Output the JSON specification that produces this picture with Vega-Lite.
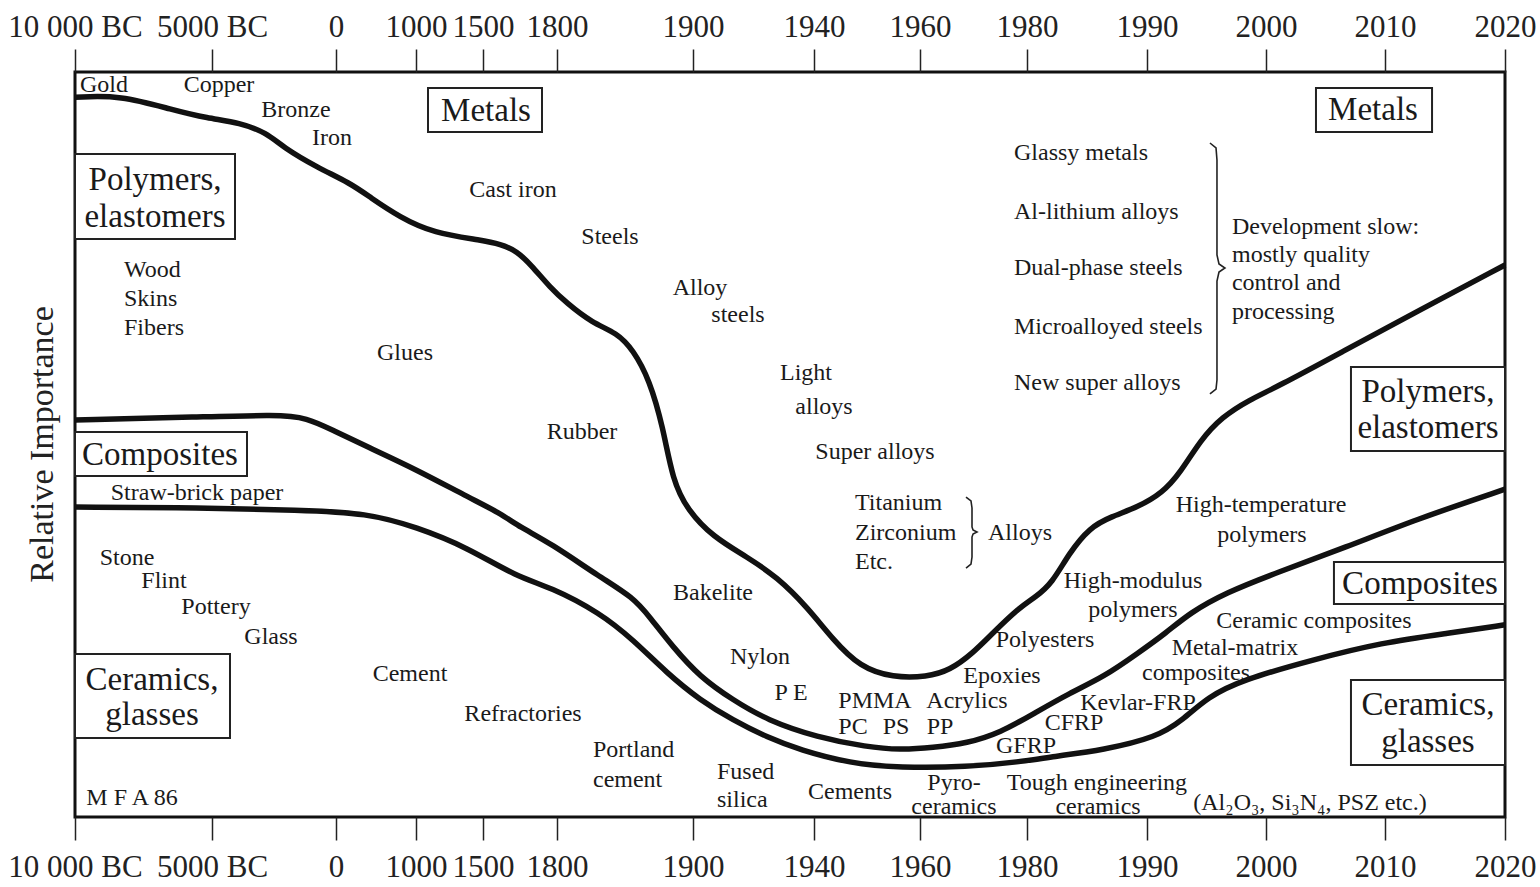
{
  "$schema": "https://vega.github.io/schema/vega-lite/v6.json",
  "width": 1430,
  "height": 745,
  "autosize": "none",
  "padding": {"left": 75, "top": 72, "right": 35, "bottom": 70},
  "background": "white",
  "title": {"text": "Relative Importance", "orient": "left", "anchor": "middle", "font": "Liberation Serif", "fontSize": 34, "fontWeight": "normal", "color": "#222", "offset": -52},
  "config": {
    "view": {"stroke": "#111", "strokeWidth": 3},
    "font": "Liberation Serif",
    "axis": {"labelFont": "Liberation Serif", "titleFont": "Liberation Serif", "grid": false}
  },
  "datasets": {
    "curves": [
      {"curve": "A", "year": -10000, "v": 96.6}, {"curve": "A", "year": -8358, "v": 96.9}, {"curve": "A", "year": -6423, "v": 94.9}, {"curve": "A", "year": -5182, "v": 93.8}, {"curve": "A", "year": -3871, "v": 93.2}, {"curve": "A", "year": -2782, "v": 91.8}, {"curve": "A", "year": -2137, "v": 89.9}, {"curve": "A", "year": -766, "v": 87.2}, {"curve": "A", "year": 175, "v": 85.1}, {"curve": "A", "year": 425, "v": 83.2}, {"curve": "A", "year": 800, "v": 80.5}, {"curve": "A", "year": 1127, "v": 78.4}, {"curve": "A", "year": 1500, "v": 77.4}, {"curve": "A", "year": 1569, "v": 76.9}, {"curve": "A", "year": 1638, "v": 76.0}, {"curve": "A", "year": 1703, "v": 73.8}, {"curve": "A", "year": 1772, "v": 71.1}, {"curve": "A", "year": 1807, "v": 69.0}, {"curve": "A", "year": 1826, "v": 66.3}, {"curve": "A", "year": 1844, "v": 65.0}, {"curve": "A", "year": 1856, "v": 62.7}, {"curve": "A", "year": 1868, "v": 58.7}, {"curve": "A", "year": 1878, "v": 52.3}, {"curve": "A", "year": 1885, "v": 45.2}, {"curve": "A", "year": 1896, "v": 41.2}, {"curve": "A", "year": 1906.6, "v": 37.6}, {"curve": "A", "year": 1917.9, "v": 34.9}, {"curve": "A", "year": 1927.8, "v": 32.2}, {"curve": "A", "year": 1937.7, "v": 28.2}, {"curve": "A", "year": 1943.6, "v": 23.8}, {"curve": "A", "year": 1948.7, "v": 20.1}, {"curve": "A", "year": 1954.9, "v": 18.7}, {"curve": "A", "year": 1961.3, "v": 18.8}, {"curve": "A", "year": 1965.6, "v": 19.7}, {"curve": "A", "year": 1969.9, "v": 22.0}, {"curve": "A", "year": 1973.6, "v": 24.7}, {"curve": "A", "year": 1978.7, "v": 28.2}, {"curve": "A", "year": 1980.7, "v": 29.5}, {"curve": "A", "year": 1982.1, "v": 31.4}, {"curve": "A", "year": 1983.5, "v": 35.4}, {"curve": "A", "year": 1985.25, "v": 38.9}, {"curve": "A", "year": 1987.0, "v": 40.3}, {"curve": "A", "year": 1989.25, "v": 41.6}, {"curve": "A", "year": 1991.3, "v": 43.5}, {"curve": "A", "year": 1992.8, "v": 46.2}, {"curve": "A", "year": 1994.5, "v": 50.6}, {"curve": "A", "year": 1996.3, "v": 53.7}, {"curve": "A", "year": 1998.6, "v": 56.0}, {"curve": "A", "year": 2000.9, "v": 57.7}, {"curve": "A", "year": 2006.7, "v": 62.7}, {"curve": "A", "year": 2012.5, "v": 67.7}, {"curve": "A", "year": 2020, "v": 74.1},
      {"curve": "B", "year": -10000, "v": 53.3}, {"curve": "B", "year": -5438, "v": 53.7}, {"curve": "B", "year": -2379, "v": 54.0}, {"curve": "B", "year": -1170, "v": 53.6}, {"curve": "B", "year": -121, "v": 51.9}, {"curve": "B", "year": 388, "v": 49.7}, {"curve": "B", "year": 1007, "v": 46.6}, {"curve": "B", "year": 1381, "v": 43.0}, {"curve": "B", "year": 1569, "v": 40.8}, {"curve": "B", "year": 1650, "v": 38.9}, {"curve": "B", "year": 1772, "v": 36.8}, {"curve": "B", "year": 1831.6, "v": 32.2}, {"curve": "B", "year": 1855.9, "v": 29.5}, {"curve": "B", "year": 1868.4, "v": 26.8}, {"curve": "B", "year": 1885.3, "v": 22.8}, {"curve": "B", "year": 1902.3, "v": 18.8}, {"curve": "B", "year": 1913.2, "v": 15.7}, {"curve": "B", "year": 1924.5, "v": 13.0}, {"curve": "B", "year": 1940.6, "v": 10.7}, {"curve": "B", "year": 1950.0, "v": 9.4}, {"curve": "B", "year": 1956.2, "v": 9.0}, {"curve": "B", "year": 1962.4, "v": 9.3}, {"curve": "B", "year": 1968.8, "v": 9.9}, {"curve": "B", "year": 1975.0, "v": 11.3}, {"curve": "B", "year": 1980.7, "v": 14.0}, {"curve": "B", "year": 1983.5, "v": 16.6}, {"curve": "B", "year": 1986.4, "v": 18.8}, {"curve": "B", "year": 1989.25, "v": 22.0}, {"curve": "B", "year": 1991.6, "v": 24.7}, {"curve": "B", "year": 1993.6, "v": 27.4}, {"curve": "B", "year": 1996.6, "v": 30.1}, {"curve": "B", "year": 2000.9, "v": 32.8}, {"curve": "B", "year": 2006.7, "v": 36.2}, {"curve": "B", "year": 2012.5, "v": 39.9}, {"curve": "B", "year": 2020, "v": 44.0},
      {"curve": "C", "year": -10000, "v": 41.6}, {"curve": "C", "year": -5438, "v": 41.5}, {"curve": "C", "year": -1452, "v": 41.2}, {"curve": "C", "year": 388, "v": 40.8}, {"curve": "C", "year": 1007, "v": 38.9}, {"curve": "C", "year": 1381, "v": 36.2}, {"curve": "C", "year": 1638, "v": 32.2}, {"curve": "C", "year": 1772, "v": 30.9}, {"curve": "C", "year": 1831.6, "v": 27.4}, {"curve": "C", "year": 1855.9, "v": 23.8}, {"curve": "C", "year": 1880.9, "v": 19.3}, {"curve": "C", "year": 1902.3, "v": 15.7}, {"curve": "C", "year": 1913.2, "v": 13.0}, {"curve": "C", "year": 1924.5, "v": 10.7}, {"curve": "C", "year": 1935.4, "v": 9.0}, {"curve": "C", "year": 1946.8, "v": 7.2}, {"curve": "C", "year": 1956.2, "v": 6.6}, {"curve": "C", "year": 1968.8, "v": 6.7}, {"curve": "C", "year": 1978.7, "v": 7.4}, {"curve": "C", "year": 1982.1, "v": 8.1}, {"curve": "C", "year": 1986.4, "v": 9.0}, {"curve": "C", "year": 1990.8, "v": 10.7}, {"curve": "C", "year": 1993.0, "v": 13.0}, {"curve": "C", "year": 1995.1, "v": 16.1}, {"curve": "C", "year": 1998.0, "v": 18.4}, {"curve": "C", "year": 2003.9, "v": 21.1}, {"curve": "C", "year": 2009.7, "v": 23.4}, {"curve": "C", "year": 2015.4, "v": 24.7}, {"curve": "C", "year": 2020, "v": 25.8}
    ],
    "boxes": [
      {"x1": 1089.56, "x2": 1739.19, "y1": 91.95, "y2": 97.85},
      {"x1": 2004.2, "x2": 2013.92, "y1": 91.95, "y2": 97.85},
      {"x1": -10000, "x2": -4072.6, "y1": 77.58, "y2": 88.99},
      {"x1": -10000, "x2": -3588.8, "y1": 45.77, "y2": 51.68},
      {"x1": -10000, "x2": -4274.2, "y1": 10.6, "y2": 21.88},
      {"x1": 2007.14, "x2": 2020, "y1": 49.13, "y2": 60.4},
      {"x1": 2005.71, "x2": 2020, "y1": 28.59, "y2": 34.23},
      {"x1": 2007.14, "x2": 2020, "y1": 6.98, "y2": 18.39}
    ],
    "boxLabels": [
      {"label": "Metals", "year": 1512.16, "v": 94.77},
      {"label": "Metals", "year": 2008.99, "v": 94.9},
      {"label": "Polymers,", "year": -7080, "v": 85.5},
      {"label": "elastomers", "year": -7080, "v": 80.54},
      {"label": "Composites", "year": -6897.5, "v": 48.59},
      {"label": "Ceramics,", "year": -7189.5, "v": 18.39},
      {"label": "glasses", "year": -7189.5, "v": 13.69},
      {"label": "Polymers,", "year": 2013.58, "v": 57.05},
      {"label": "elastomers", "year": 2013.58, "v": 52.21},
      {"label": "Composites", "year": 2012.92, "v": 31.28},
      {"label": "Ceramics,", "year": 2013.58, "v": 15.03},
      {"label": "glasses", "year": 2013.58, "v": 10.07}
    ],
    "labels": [
      {"label": "Gold", "year": -8941.5, "v": 98.26},
      {"label": "Copper", "year": -4717.8, "v": 98.26},
      {"label": "Bronze", "year": -1613, "v": 94.9},
      {"label": "Iron", "year": -161.6, "v": 91.14},
      {"label": "Cast iron", "year": 1621.6, "v": 84.16},
      {"label": "Steels", "year": 1838.97, "v": 77.85},
      {"label": "Alloy", "year": 1902.31, "v": 71.01},
      {"label": "steels", "year": 1914.88, "v": 67.38},
      {"label": "Light", "year": 1937.36, "v": 59.6},
      {"label": "alloys", "year": 1941.89, "v": 55.03},
      {"label": "Super alloys", "year": 1951.51, "v": 48.99},
      {"label": "Glues", "year": 862.5, "v": 62.28},
      {"label": "Rubber", "year": 1818.38, "v": 51.68},
      {"label": "Straw-brick paper", "year": -5547, "v": 43.49},
      {"label": "Stone", "year": -8102, "v": 34.77},
      {"label": "Flint", "year": -6751.5, "v": 31.68},
      {"label": "Pottery", "year": -4838.7, "v": 28.19},
      {"label": "Glass", "year": -2621, "v": 24.16},
      {"label": "Cement", "year": 925, "v": 19.19},
      {"label": "Refractories", "year": 1662.2, "v": 13.83},
      {"label": "Cements", "year": 1946.79, "v": 3.36},
      {"label": "Pyro-", "year": 1966.35, "v": 4.56},
      {"label": "ceramics", "year": 1966.35, "v": 1.34},
      {"label": "Tough engineering", "year": 1985.83, "v": 4.56},
      {"label": "ceramics", "year": 1985.92, "v": 1.34},
      {"label": "(Al₂O₃, Si₃N₄, PSZ etc.)", "year": 2003.7, "v": 1.88},
      {"label": "Bakelite", "year": 1906.61, "v": 30.07},
      {"label": "Nylon", "year": 1922.15, "v": 21.48},
      {"label": "P E", "year": 1932.4, "v": 16.64},
      {"label": "PMMA", "year": 1951.51, "v": 15.6},
      {"label": "PC", "year": 1947.36, "v": 12.05},
      {"label": "PS", "year": 1955.47, "v": 12.05},
      {"label": "Acrylics", "year": 1968.78, "v": 15.6},
      {"label": "PP", "year": 1963.74, "v": 12.05},
      {"label": "Epoxies", "year": 1975.33, "v": 18.93},
      {"label": "Polyesters", "year": 1981.5, "v": 23.76},
      {"label": "GFRP", "year": 1979.81, "v": 9.53},
      {"label": "CFRP", "year": 1983.92, "v": 12.62},
      {"label": "Kevlar-FRP", "year": 1989.25, "v": 15.3},
      {"label": "Metal-matrix", "year": 1997.39, "v": 22.68},
      {"label": "composites", "year": 1994.12, "v": 19.33},
      {"label": "Ceramic composites", "year": 2004.03, "v": 26.31},
      {"label": "High-modulus", "year": 1988.83, "v": 31.68},
      {"label": "polymers", "year": 1988.83, "v": 27.79},
      {"label": "High-temperature", "year": 1999.58, "v": 41.88},
      {"label": "polymers", "year": 1999.66, "v": 37.85},
      {"label": "M F A 86", "year": -7919.5, "v": 2.55}
    ],
    "leftLabels": [
      {"label": "Wood", "year": -8211.5, "v": 73.42},
      {"label": "Skins", "year": -8211.5, "v": 69.53},
      {"label": "Fibers", "year": -8211.5, "v": 65.64},
      {"label": "Titanium", "year": 1947.74, "v": 42.15},
      {"label": "Zirconium", "year": 1947.74, "v": 38.12},
      {"label": "Etc.", "year": 1947.74, "v": 34.23},
      {"label": "Alloys", "year": 1972.71, "v": 38.12},
      {"label": "Glassy metals", "year": 1977.57, "v": 89.13},
      {"label": "Al-lithium alloys", "year": 1977.57, "v": 81.21},
      {"label": "Dual-phase steels", "year": 1977.57, "v": 73.69},
      {"label": "Microalloyed steels", "year": 1977.57, "v": 65.77},
      {"label": "New super alloys", "year": 1977.57, "v": 58.26},
      {"label": "Development slow:", "year": 1997.14, "v": 79.19},
      {"label": "mostly quality", "year": 1997.14, "v": 75.44},
      {"label": "control and", "year": 1997.14, "v": 71.68},
      {"label": "processing", "year": 1997.14, "v": 67.79},
      {"label": "Portland", "year": 1826.47, "v": 8.99},
      {"label": "cement", "year": 1826.47, "v": 4.97},
      {"label": "Fused", "year": 1907.93, "v": 6.04},
      {"label": "silica", "year": 1907.93, "v": 2.28}
    ],
    "braces": [
      {"brace": "big", "i": 1, "year": 1995.29, "v": 90.47}, {"brace": "big", "i": 2, "year": 1995.8, "v": 89.8}, {"brace": "big", "i": 3, "year": 1995.88, "v": 88.19}, {"brace": "big", "i": 4, "year": 1995.88, "v": 75.44}, {"brace": "big", "i": 5, "year": 1996.05, "v": 74.23}, {"brace": "big", "i": 6, "year": 1996.55, "v": 73.69}, {"brace": "big", "i": 7, "year": 1996.05, "v": 73.15}, {"brace": "big", "i": 8, "year": 1995.88, "v": 71.95}, {"brace": "big", "i": 9, "year": 1995.88, "v": 58.66}, {"brace": "big", "i": 10, "year": 1995.8, "v": 57.45}, {"brace": "big", "i": 11, "year": 1995.29, "v": 56.78},
      {"brace": "small", "i": 1, "year": 1968.6, "v": 42.95}, {"brace": "small", "i": 2, "year": 1969.53, "v": 42.42}, {"brace": "small", "i": 3, "year": 1969.72, "v": 41.48}, {"brace": "small", "i": 4, "year": 1969.72, "v": 38.93}, {"brace": "small", "i": 5, "year": 1969.91, "v": 38.52}, {"brace": "small", "i": 6, "year": 1970.65, "v": 38.26}, {"brace": "small", "i": 7, "year": 1969.91, "v": 37.99}, {"brace": "small", "i": 8, "year": 1969.72, "v": 37.58}, {"brace": "small", "i": 9, "year": 1969.72, "v": 34.9}, {"brace": "small", "i": 10, "year": 1969.53, "v": 33.96}, {"brace": "small", "i": 11, "year": 1968.6, "v": 33.42}
    ]
  },
  "layer": [
    {
      "data": {"name": "curves"},
      "mark": {"type": "line", "interpolate": "basis", "strokeWidth": 5.5, "color": "#111"},
      "encoding": {
        "x": {"field": "year", "type": "quantitative",
          "scale": {"type": "linear", "domain": [-10000, -5000, 0, 1000, 1500, 1800, 1900, 1940, 1960, 1980, 1990, 2000, 2010, 2020], "range": [0, 137, 261, 341, 408, 482, 618, 739, 845, 952, 1072, 1191, 1310, 1430], "nice": false, "zero": false},
          "axis": {"orient": "top", "title": null, "values": [-10000, -5000, 0, 1000, 1500, 1800, 1900, 1940, 1960, 1980, 1990, 2000, 2010, 2020], "labelExpr": "datum.value == -10000 ? '10 000 BC' : datum.value == -5000 ? '5000 BC' : '' + datum.value", "domain": false, "ticks": true, "tickSize": 23, "tickWidth": 1.5, "tickColor": "#222", "labelFontSize": 31, "labelColor": "#222", "labelPadding": 6, "labelOverlap": false, "labelBound": false, "labelFlush": false, "grid": false}},
        "y": {"field": "v", "type": "quantitative", "scale": {"domain": [0, 100], "nice": false, "zero": false}, "axis": null},
        "detail": {"field": "curve"}
      }
    },
    {
      "data": {"name": "boxes"},
      "mark": {"type": "rect", "fill": "white", "stroke": "#222", "strokeWidth": 2},
      "encoding": {
        "x": {"field": "x1", "type": "quantitative",
          "scale": {"type": "linear", "domain": [-10000, -5000, 0, 1000, 1500, 1800, 1900, 1940, 1960, 1980, 1990, 2000, 2010, 2020], "range": [0, 137, 261, 341, 408, 482, 618, 739, 845, 952, 1072, 1191, 1310, 1430], "nice": false, "zero": false},
          "axis": {"orient": "bottom", "title": null, "values": [-10000, -5000, 0, 1000, 1500, 1800, 1900, 1940, 1960, 1980, 1990, 2000, 2010, 2020], "labelExpr": "datum.value == -10000 ? '10 000 BC' : datum.value == -5000 ? '5000 BC' : '' + datum.value", "domain": false, "ticks": true, "tickSize": 23, "tickWidth": 1.5, "tickColor": "#222", "labelFontSize": 31, "labelColor": "#222", "labelPadding": 12, "labelOverlap": false, "labelBound": false, "labelFlush": false, "grid": false}},
        "x2": {"field": "x2"},
        "y": {"field": "y1", "type": "quantitative", "scale": {"domain": [0, 100], "nice": false, "zero": false}, "axis": null},
        "y2": {"field": "y2"}
      }
    },
    {
      "data": {"name": "braces"},
      "mark": {"type": "line", "strokeWidth": 1.6, "color": "#222"},
      "encoding": {
        "x": {"field": "year", "type": "quantitative", "axis": null},
        "y": {"field": "v", "type": "quantitative", "axis": null},
        "detail": {"field": "brace"},
        "order": {"field": "i", "type": "quantitative"}
      }
    },
    {
      "data": {"name": "labels"},
      "mark": {"type": "text", "align": "center", "baseline": "middle", "fontSize": 24, "font": "Liberation Serif", "color": "#1a1a1a"},
      "encoding": {
        "x": {"field": "year", "type": "quantitative", "axis": null},
        "y": {"field": "v", "type": "quantitative", "axis": null},
        "text": {"field": "label"}
      }
    },
    {
      "data": {"name": "leftLabels"},
      "mark": {"type": "text", "align": "left", "baseline": "middle", "fontSize": 24, "font": "Liberation Serif", "color": "#1a1a1a"},
      "encoding": {
        "x": {"field": "year", "type": "quantitative", "axis": null},
        "y": {"field": "v", "type": "quantitative", "axis": null},
        "text": {"field": "label"}
      }
    },
    {
      "data": {"name": "boxLabels"},
      "mark": {"type": "text", "align": "center", "baseline": "middle", "fontSize": 33, "font": "Liberation Serif", "color": "#1a1a1a"},
      "encoding": {
        "x": {"field": "year", "type": "quantitative", "axis": null},
        "y": {"field": "v", "type": "quantitative", "axis": null},
        "text": {"field": "label"}
      }
    }
  ]
}
